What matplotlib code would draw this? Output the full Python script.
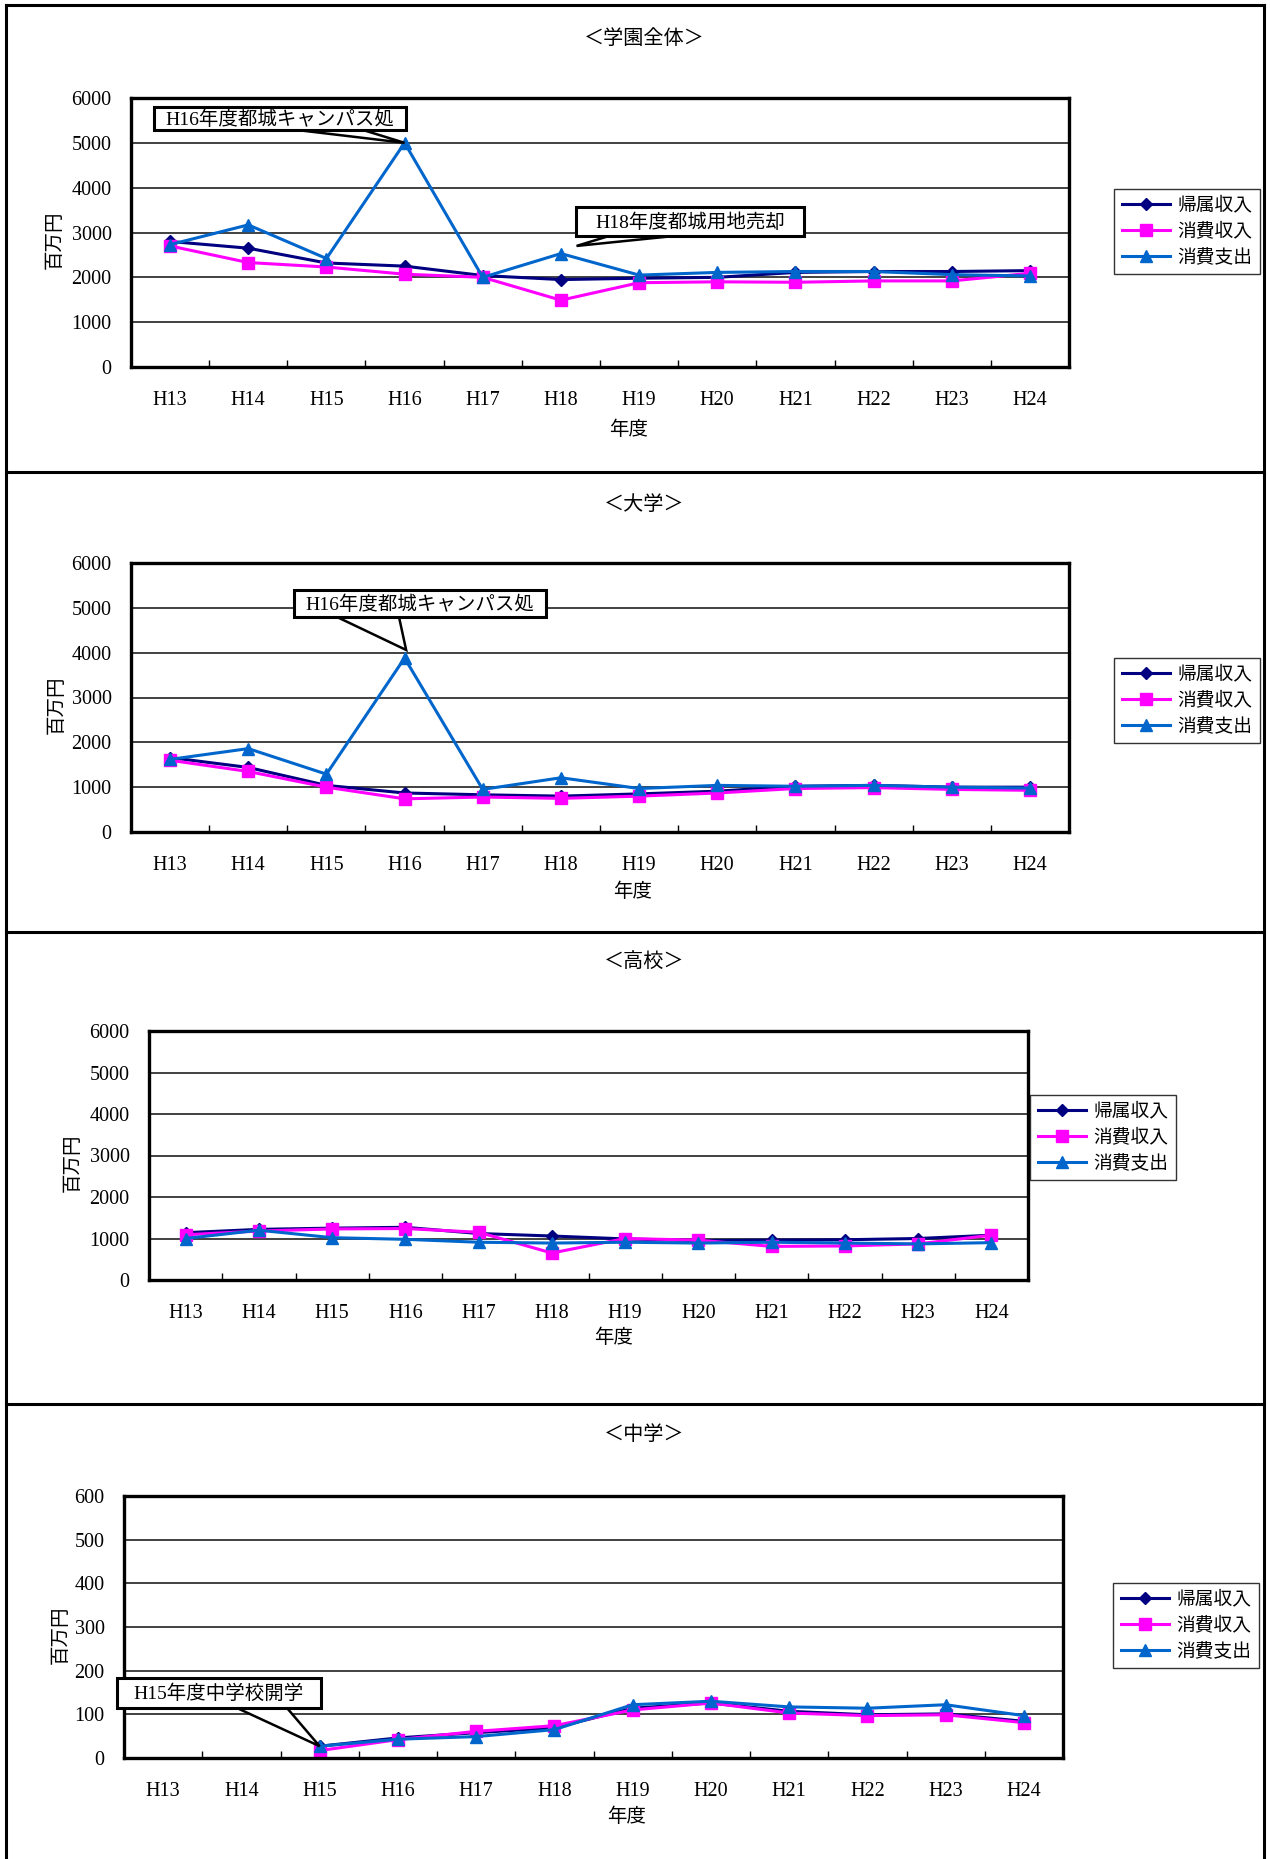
import numpy as np
import matplotlib.pyplot as plt
from matplotlib.lines import Line2D
from matplotlib.patches import Polygon, Rectangle

plt.rcParams['font.family'] = ['Liberation Serif', 'Noto Sans CJK JP']

# ---------- データ ----------
years = ["H13", "H14", "H15", "H16", "H17", "H18", "H19", "H20", "H21", "H22", "H23", "H24"]
series_names = ["帰属収入", "消費収入", "消費支出"]

# 学園全体 (百万円)
all_kizoku = [2800, 2650, 2320, 2250, 2040, 1950, 1980, 2000, 2110, 2130, 2130, 2150]
all_shuunyu = [2700, 2330, 2230, 2070, 2000, 1490, 1880, 1900, 1890, 1920, 1920, 2090]
all_shishutsu = [2730, 3170, 2420, 5000, 2000, 2530, 2050, 2110, 2130, 2130, 2060, 2030]

# 大学
univ_kizoku = [1660, 1440, 1040, 870, 830, 800, 850, 910, 1020, 1040, 1000, 1000]
univ_shuunyu = [1600, 1350, 1000, 740, 780, 750, 800, 870, 970, 990, 950, 930]
univ_shishutsu = [1620, 1860, 1290, 3880, 950, 1210, 970, 1040, 1020, 1040, 1000, 980]

# 高校
high_kizoku = [1140, 1220, 1250, 1270, 1120, 1060, 990, 950, 960, 970, 1000, 1080]
high_shuunyu = [1090, 1180, 1230, 1240, 1150, 650, 1000, 960, 810, 820, 870, 1080]
high_shishutsu = [1000, 1200, 1020, 980, 910, 890, 910, 890, 910, 890, 870, 900]

# 中学 (H15開学)
jr_kizoku = [np.nan, np.nan, 27, 46, 58, 69, 114, 126, 107, 99, 101, 84]
jr_shuunyu = [np.nan, np.nan, 17, 42, 61, 74, 110, 126, 103, 97, 99, 81]
jr_shishutsu = [np.nan, np.nan, 27, 43, 49, 65, 122, 130, 117, 114, 122, 97]

W, H = 1270, 1859
fig = plt.figure(figsize=(W / 100, H / 100), dpi=100)

colors = ["#000080", "#FF00FF", "#0066CC"]
markers = ["D", "s", "^"]
msizes = [6.5, 8.5, 9]


def fx(x):
    return x / W


def fy(y):
    return 1 - y / H


def px_axes(x0, y0, x1, y1):
    return fig.add_axes([fx(x0), fy(y1), (x1 - x0) / W, (y1 - y0) / H])


def callout(ax, text, tip, box, base):
    # 吹き出し: box=(x0, y0, x1, y1) [px], base=(xa, xb) 箱の下辺, tip=データ座標
    tx, ty = ax.transData.transform(tip)
    x0, y0, x1, y1 = box
    tri = Polygon([(fx(base[0]), fy(y1)), (fx(base[1]), fy(y1)), (tx / W, ty / H)],
                  closed=True, transform=fig.transFigure, fc="white", ec="black", lw=1.8,
                  zorder=20)
    fig.add_artist(tri)
    rect = Rectangle((fx(x0), fy(y1)), (x1 - x0) / W, (y1 - y0) / H, transform=fig.transFigure,
                     fc="white", ec="black", lw=2.2, zorder=21)
    fig.add_artist(rect)
    fig.text(fx((x0 + x1) / 2), fy((y0 + y1) / 2 + 1), text, ha="center", va="center",
             fontsize=14, zorder=22)


def draw_panel(box, data, ymax, ystep, title, title_xy, xlabel_xy, ylabel_xy, legend_xy):
    ax = px_axes(*box)
    x = np.arange(len(years))
    for vals, c, m, ms, name in zip(data, colors, markers, msizes, series_names):
        ax.plot(x, vals, color=c, lw=2.2, marker=m, markersize=ms, label=name)
    ax.set_xlim(-0.5, len(years) - 0.5)
    ax.set_ylim(0, ymax)
    ax.set_yticks(np.arange(0, ymax + 1, ystep))
    ax.set_xticks(x)
    ax.set_xticklabels(years)
    ax.set_xticks(np.arange(0.5, len(years) - 1, 1), minor=True)
    ax.tick_params(axis="x", which="major", length=0, pad=17, labelsize=14.5)
    ax.tick_params(axis="x", which="minor", direction="in", length=5, width=1)
    ax.tick_params(axis="y", length=0, pad=14, labelsize=14.5)
    ax.grid(axis="y", color="#333333", lw=1.3)
    ax.set_axisbelow(True)
    for s in ax.spines.values():
        s.set_linewidth(2.4)
        s.set_color("black")

    fig.text(fx(title_xy[0]), fy(title_xy[1]), title, ha="center", va="center", fontsize=14.5)
    fig.text(fx(xlabel_xy[0]), fy(xlabel_xy[1]), "年度", ha="center", va="center", fontsize=14)
    fig.text(fx(ylabel_xy[0]), fy(ylabel_xy[1]), "百万円", ha="center", va="center",
             fontsize=14, rotation=90)

    leg = ax.legend(loc="upper left", bbox_to_anchor=(fx(legend_xy[0]), fy(legend_xy[1])),
                    bbox_transform=fig.transFigure, fontsize=13.5, frameon=True, fancybox=False,
                    handlelength=2.6, borderpad=0.4, labelspacing=0.45, handletextpad=0.4,
                    borderaxespad=0)
    leg.get_frame().set_edgecolor("black")
    leg.get_frame().set_linewidth(1)
    return ax


ax1 = draw_panel((131, 98, 1069, 367), [all_kizoku, all_shuunyu, all_shishutsu], 6000, 1000,
                 "＜学園全体＞", (644, 39), (629, 430), (55, 240), (1114, 189))
callout(ax1, "H16年度都城キャンパス処", (3, 5000), (154, 107, 406, 130), (297, 363))
callout(ax1, "H18年度都城用地売却", (5.2, 2700), (576, 207, 804, 236), (609, 674))

ax2 = draw_panel((131, 563, 1069, 832), [univ_kizoku, univ_shuunyu, univ_shishutsu], 6000, 1000,
                 "＜大学＞", (644, 505), (633, 892), (57, 705), (1114, 658))
callout(ax2, "H16年度都城キャンパス処", (3.02, 4060), (294, 590, 546, 617), (337, 399))

ax3 = draw_panel((149, 1031, 1028, 1280), [high_kizoku, high_shuunyu, high_shishutsu], 6000, 1000,
                 "＜高校＞", (644, 963), (614, 1338), (73, 1163), (1030, 1095))

ax4 = draw_panel((124, 1496, 1063, 1758), [jr_kizoku, jr_shuunyu, jr_shishutsu], 600, 100,
                 "＜中学＞", (644, 1436), (627, 1817), (61, 1635), (1113, 1583))
callout(ax4, "H15年度中学校開学", (2, 27), (117, 1678, 321, 1708), (237, 287))

# ---------- 外枠・区切り線 ----------
for yy in (5, 472, 932, 1404):
    fig.add_artist(Line2D([fx(6), fx(1264)], [fy(yy), fy(yy)], color="black", lw=2.2))
for xx in (6, 1264):
    fig.add_artist(Line2D([fx(xx), fx(xx)], [fy(5), 0], color="black", lw=2.2))

fig.savefig("out.png", dpi=100)
